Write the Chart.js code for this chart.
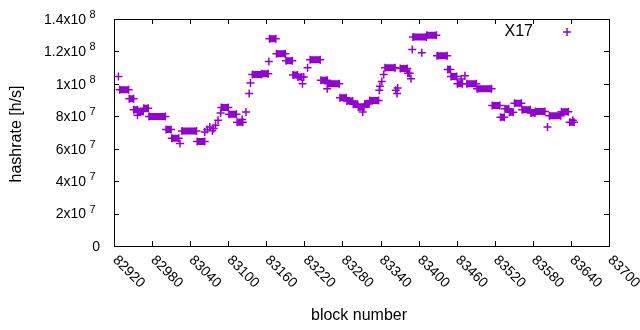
<!DOCTYPE html>
<html>
<head>
<meta charset="utf-8">
<script src="https://cdn.jsdelivr.net/npm/chart.js@4/dist/chart.umd.min.js"></script>
<style>
  body { margin: 0; background: #fff; }
  canvas { display: block; }
</style>
</head>
<body>
<canvas id="hashChart" width="640" height="330"></canvas>
<script>
// chart.js - hashrate per block, one entry per stretch of blocks at the same rate

const runStart = [82927, 82929, 82944, 82951, 82957, 82958, 82967, 82975, 83002, 83011,
    83024, 83027, 83051, 83063, 83067, 83071, 83075, 83077, 83080, 83084,
    83088, 83089, 83101, 83114, 83122, 83128, 83133, 83135, 83138, 83153,
    83164, 83165, 83176, 83191, 83202, 83210, 83217, 83219, 83225, 83229,
    83246, 83256, 83257, 83276, 83287, 83297, 83305, 83312, 83315, 83323,
    83338, 83339, 83342, 83345, 83347, 83364, 83366, 83367, 83371, 83383,
    83388, 83390, 83391, 83405, 83413, 83429, 83446, 83451, 83461, 83467,
    83473, 83476, 83492, 83516, 83529, 83536, 83543, 83551, 83563, 83577,
    83584, 83603, 83606, 83625, 83638, 83643];
const runEnd = [82927, 82943, 82951, 82957, 82957, 82966, 82974, 83001, 83010, 83022,
    83024, 83050, 83063, 83063, 83067, 83071, 83075, 83077, 83080, 83084,
    83088, 83100, 83113, 83123, 83122, 83128, 83133, 83135, 83152, 83163,
    83164, 83175, 83190, 83201, 83209, 83216, 83217, 83219, 83225, 83245,
    83256, 83256, 83275, 83286, 83296, 83304, 83314, 83312, 83322, 83337,
    83338, 83339, 83342, 83345, 83363, 83364, 83366, 83367, 83382, 83386,
    83388, 83390, 83412, 83405, 83428, 83445, 83450, 83460, 83469, 83467,
    83473, 83491, 83515, 83528, 83535, 83542, 83549, 83562, 83576, 83583,
    83599, 83603, 83624, 83636, 83645, 83643];
const runRate = [10.46, 9.63, 9.08, 8.41, 8.06, 8.29, 8.49, 7.98, 7.18, 6.65,
    6.32, 7.09, 6.44, 7.03, 7.18, 7.34, 7.11, 7.24, 7.45, 7.75,
    8.2, 8.54, 8.12, 7.63, 7.8, 8.26, 9.4, 10.05, 10.58, 10.63,
    11.38, 12.78, 11.86, 11.42, 10.54, 10.42, 10.01, 10.42, 11.0, 11.49,
    10.22, 9.7, 10.01, 9.15, 8.94, 8.74, 8.55, 8.26, 8.76, 8.98,
    9.6, 9.86, 10.15, 10.57, 11.0, 9.6, 9.4, 9.74, 10.94, 10.66,
    10.32, 12.12, 12.89, 11.92, 13.0, 11.74, 10.88, 10.45, 10.0, 10.3,
    10.5, 10.0, 9.7, 8.66, 7.94, 8.46, 8.25, 8.8, 8.41, 8.2,
    8.29, 7.34, 8.03, 8.28, 7.63, 7.75].map(v => v * 1e7);

const xTicks = [82920, 82980, 83040, 83100, 83160, 83220, 83280, 83340, 83400, 83460, 83520, 83580, 83640, 83700];
const yTicks = [0, 2e7, 4e7, 6e7, 8e7, 1e8, 1.2e8, 1.4e8];
const yTickBase = ['0', '2x10', '4x10', '6x10', '8x10', '1x10', '1.2x10', '1.4x10'];
const yTickExp = ['', '7', '7', '7', '7', '8', '8', '8'];

const seriesLabel = 'X17';
const purple = '#9400d3';
const family = '"Liberation Sans", Arial, sans-serif';
const font = '14px ' + family;
const titleFont = '16px ' + family;

const points = [];
runStart.forEach((start, i) => {
    points.push({ x: start, y: runRate[i] });
    if (runEnd[i] !== start) points.push({ x: runEnd[i], y: runRate[i] });
    points.push({ x: runEnd[i], y: null });
});

// gnuplot style frame: border, inward ticks on all sides, rotated x labels
const gnuplotFrame = {
    id: 'gnuplotFrame',
    beforeDatasetsDraw(chart) {
        const { ctx, chartArea: a, scales } = chart;
        ctx.save();
        ctx.strokeStyle = '#000';
        ctx.lineWidth = 1;
        ctx.strokeRect(a.left + 0.5, a.top + 0.5, a.right - a.left, a.bottom - a.top);

        ctx.beginPath();
        xTicks.forEach(t => {
            const x = Math.round(scales.x.getPixelForValue(t)) + 0.5;
            ctx.moveTo(x, a.bottom); ctx.lineTo(x, a.bottom - 5);
            ctx.moveTo(x, a.top); ctx.lineTo(x, a.top + 5);
        });
        yTicks.forEach(t => {
            const y = Math.round(scales.y.getPixelForValue(t)) + 0.5;
            ctx.moveTo(a.left, y); ctx.lineTo(a.left + 5, y);
            ctx.moveTo(a.right, y); ctx.lineTo(a.right - 5, y);
        });
        ctx.stroke();

        ctx.fillStyle = '#000';
        ctx.font = font;
        ctx.textBaseline = 'middle';
        xTicks.forEach(t => {
            const x = scales.x.getPixelForValue(t);
            ctx.save();
            ctx.translate(x + 1, a.bottom + 12);
            ctx.rotate(Math.PI / 4);
            ctx.textAlign = 'left';
            ctx.fillText(String(t), 0, 0);
            ctx.restore();
        });

        yTicks.forEach((t, i) => {
            const y = scales.y.getPixelForValue(t) + 1;
            if (!yTickExp[i]) {
                ctx.textAlign = 'right';
                ctx.fillText(yTickBase[i], 100, y);
                return;
            }
            ctx.textAlign = 'right';
            ctx.fillText(yTickBase[i], 86, y);
            ctx.save();
            ctx.font = '11px ' + family;
            ctx.textAlign = 'left';
            ctx.fillText(yTickExp[i], 89.5, y - 5);
            ctx.restore();
        });

        ctx.font = titleFont;
        ctx.textAlign = 'center';
        ctx.fillText('block number', 359, 316);
        ctx.save();
        ctx.translate(17, 134);
        ctx.rotate(-Math.PI / 2);
        ctx.fillText('hashrate [h/s]', 0, 0);
        ctx.restore();
        ctx.restore();
    },
    afterDraw(chart) {
        const { ctx } = chart;
        ctx.save();
        ctx.fillStyle = '#000';
        ctx.font = titleFont;
        ctx.textAlign = 'right';
        ctx.textBaseline = 'middle';
        ctx.fillText(seriesLabel, 533, 32);
        ctx.strokeStyle = purple;
        ctx.lineWidth = 1.5;
        ctx.beginPath();
        ctx.moveTo(563, 32); ctx.lineTo(571, 32);
        ctx.moveTo(567, 28); ctx.lineTo(567, 36);
        ctx.stroke();
        ctx.restore();
    }
};

const ctx = document.getElementById('hashChart').getContext('2d');
new Chart(ctx, {
    type: 'line',
    data: {
        datasets: [{
            label: seriesLabel,
            data: points,
            borderColor: purple,
            backgroundColor: purple,
            borderWidth: 7,
            borderCapStyle: 'butt',
            pointStyle: 'cross',
            pointRadius: 4,
            pointHoverRadius: 4,
            pointBorderWidth: 1.5,
            tension: 0,
            spanGaps: false,
            fill: false
        }]
    },
    options: {
        responsive: false,
        animation: false,
        devicePixelRatio: 1,
        layout: { padding: { left: 114, right: 31, top: 19, bottom: 84 } },
        scales: {
            x: { type: 'linear', min: 82920, max: 83700, display: false },
            y: { type: 'linear', min: 0, max: 1.4e8, display: false }
        },
        plugins: {
            legend: { display: false },
            tooltip: { enabled: false }
        }
    },
    plugins: [gnuplotFrame]
});
</script>
</body>
</html>
